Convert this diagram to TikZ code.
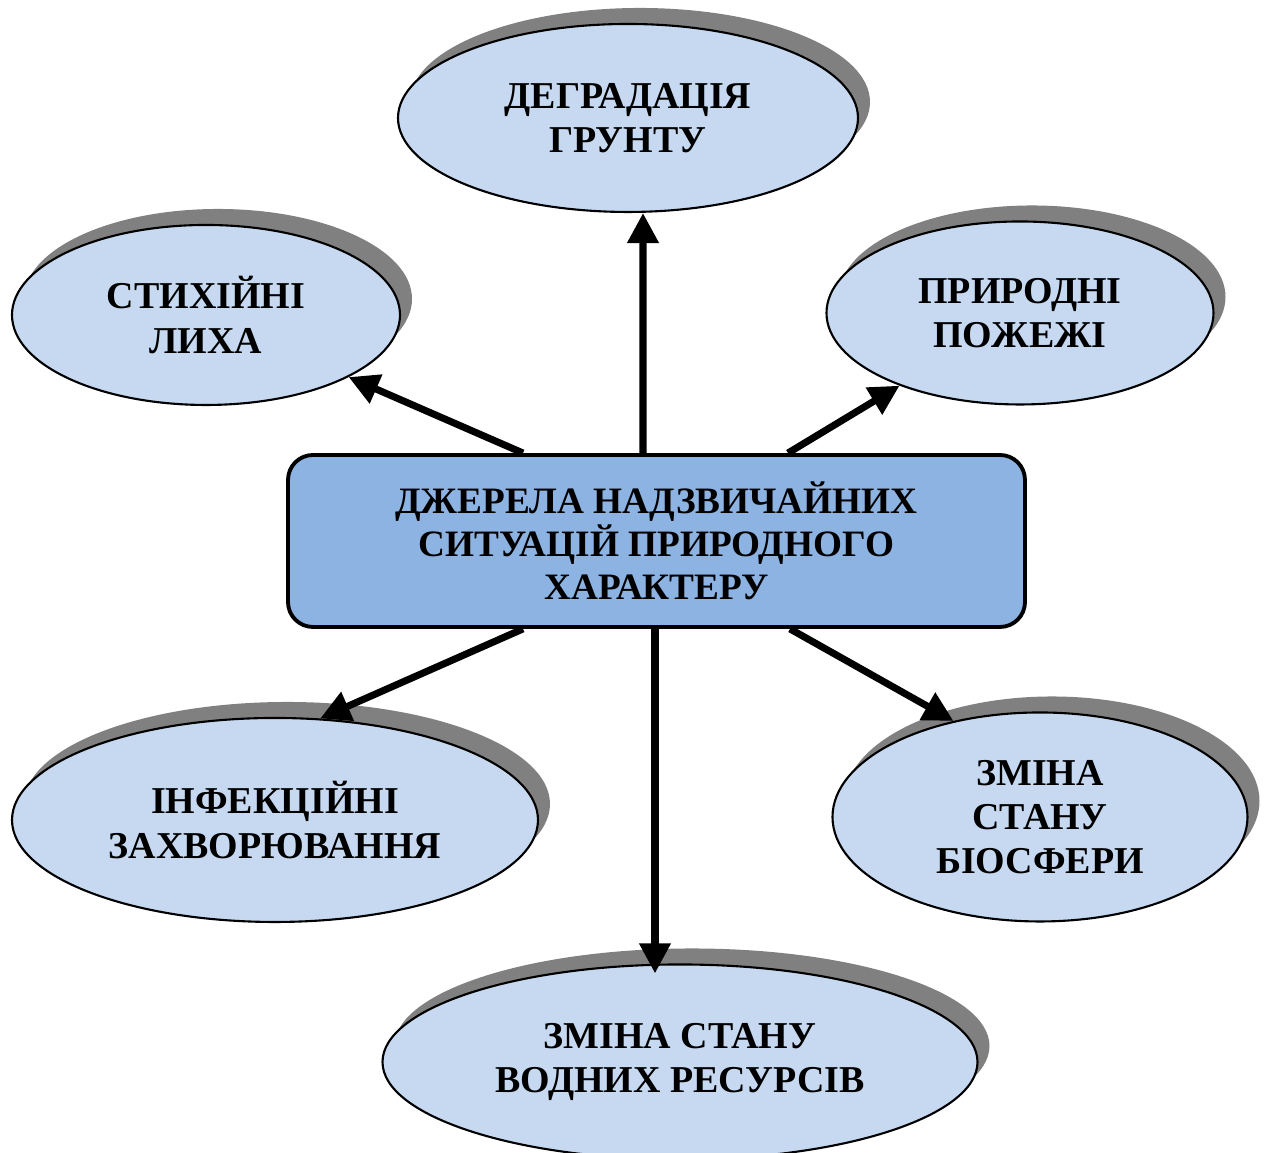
\documentclass[tikz,border=0pt]{standalone}
\usepackage{fontspec}
\setmainfont{Liberation Serif}
\usetikzlibrary{shapes.geometric,shadows,arrows.meta}
\definecolor{ovalblue}{HTML}{C6D9F1}
\definecolor{boxblue}{HTML}{8DB3E2}
\definecolor{shadowgrey}{HTML}{808080}
\tikzset{
  oval/.style={ellipse, draw=black, line width=0.6pt, fill=ovalblue, inner sep=0pt, align=center,
    font=\fontsize{10.8}{12.6}\selectfont\bfseries,
    general shadow={fill=shadowgrey, shadow xshift=0.12cm, shadow yshift=0.16cm}},
  srcbox/.style={rectangle, rounded corners=0.25cm, draw=black, line width=1.1pt, fill=boxblue,
    minimum width=7.37cm, minimum height=1.72cm, align=center,
    font=\fontsize{10.6}{12.3}\selectfont\bfseries},
  arr/.style={line width=2pt, -{Triangle[length=3mm,width=3mm]}}
}
\begin{document}
\begin{tikzpicture}
		%%%%% START %%%%%
		\useasboundingbox (0,0) rectangle (12.75,11.53);
		
		\node[oval, minimum width=4.6cm, minimum height=1.88cm] (degr) at (6.28, 10.35) {ДЕГРАДАЦІЯ\\ГРУНТУ};
		\node[oval, minimum width=3.88cm, minimum height=1.80cm] (lyxa) at (2.06, 8.38) {СТИХІЙНІ\\ЛИХА};
		\node[oval, minimum width=3.87cm, minimum height=1.83cm] (pozhezhi) at (10.20, 8.40) {ПРИРОДНІ\\ПОЖЕЖІ};
		\node[oval, minimum width=5.26cm, minimum height=2.04cm] (infek) at (2.75, 3.33) {ІНФЕКЦІЙНІ\\ЗАХВОРЮВАННЯ};
		\node[oval, minimum width=4.15cm, minimum height=2.09cm] (biosfera) at (10.40, 3.36) {ЗМІНА\\СТАНУ\\БІОСФЕРИ};
		\node[oval, minimum width=5.95cm, minimum height=1.95cm] (vodni) at (6.80, 0.91) {ЗМІНА СТАНУ\\ВОДНИХ РЕСУРСІВ};
		
		\node[srcbox] (dzherela) at (6.565, 6.12) {ДЖЕРЕЛА НАДЗВИЧАЙНИХ\\СИТУАЦІЙ ПРИРОДНОГО\\ХАРАКТЕРУ};
		
		\draw[arr] ([xshift=-0.135cm]dzherela.north) -- ([xshift=0.15cm]degr.south);
		\draw[arr] ([xshift=-1.335cm]dzherela.north) -- (lyxa);
		\draw[arr] ([xshift=1.315cm]dzherela.north) -- (pozhezhi);
		\draw[arr] ([xshift=-1.335cm]dzherela.south) -- (infek.66);
		\draw[arr, shorten >=-0.1cm] ([xshift=-0.015cm]dzherela.south) -- ([xshift=-0.25cm]vodni.north);
		\draw[arr] ([xshift=1.335cm]dzherela.south) -- (biosfera.132);
		
		%%%%% END %%%%%
\end{tikzpicture}
\end{document}
